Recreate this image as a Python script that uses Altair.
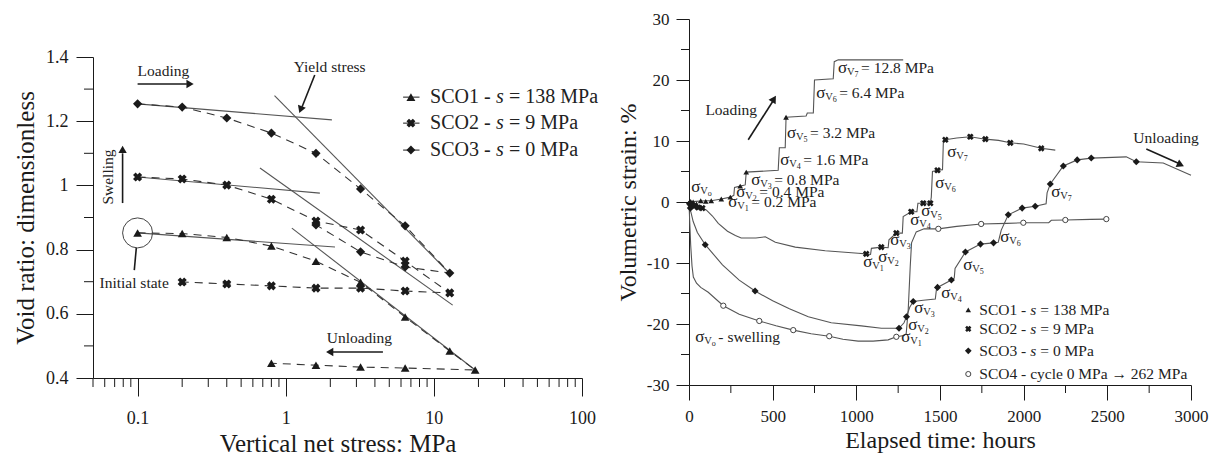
import altair as alt
import pandas as pd

FONT = "Liberation Serif"
INK = "#1a1a1a"
LINE = "#555555"

# ======================= LEFT PANEL DATA =======================
stress_load = [0.1, 0.2, 0.4, 0.8, 1.6, 3.2, 6.4, 12.8]
e_sco1_load = [0.852, 0.850, 0.838, 0.811, 0.764, 0.698, 0.590, 0.484]
stress_sco1_peak = [19.0]
e_sco1_peak = [0.425]
stress_sco1_unl = [6.4, 3.2, 1.6, 0.8]
e_sco1_unl = [0.431, 0.434, 0.440, 0.446]
e_sco2_load = [1.026, 1.020, 1.001, 0.957, 0.889, 0.861, 0.764, 0.665]
stress_sco2_unl = [6.4, 3.2, 1.6, 0.8, 0.4, 0.2]
e_sco2_unl = [0.671, 0.680, 0.680, 0.687, 0.693, 0.699]
e_sco3_load = [1.254, 1.244, 1.210, 1.163, 1.100, 0.989, 0.874, 0.727]
stress_sco3_unl = [6.4, 3.2, 1.6]
e_sco3_unl = [0.746, 0.793, 0.877]

# straight reference lines (elastic / plastic branches)
fit_s1 = [0.1, 1.1, 0.1, 0.67, 0.1, 0.84]
fit_e1 = [0.852, 0.867, 1.026, 1.054, 1.254, 1.280]
fit_s2 = [2.15, 19.0, 1.7, 13.4, 2.05, 12.9]
fit_e2 = [0.808, 0.425, 0.976, 0.627, 1.204, 0.724]

left_major_x = [0.1, 1, 10, 100]
left_minor_x = [0.05, 0.06, 0.07, 0.08, 0.09, 0.2, 0.3, 0.4, 0.5, 0.6, 0.7, 0.8, 0.9,
                2, 3, 4, 5, 6, 7, 8, 9, 20, 30, 40, 50, 60, 70, 80, 90]
left_major_y = [0.4, 0.6, 0.8, 1.0, 1.2, 1.4]
left_minor_y = [0.5, 0.7, 0.9, 1.1, 1.3]

left_leg_names = ["SCO1 - ", "SCO2 - ", "SCO3 - "]
left_leg_rest = ["= 138 MPa", "= 9 MPa", "= 0 MPa"]
left_leg_y = [1.275, 1.194, 1.110]

# ======================= RIGHT PANEL DATA =======================
t_sco1 = [0, 40, 100, 133, 193, 247, 268, 272, 306, 336, 342, 533, 540, 575, 580, 700, 707,
          743, 750, 862, 868, 892, 1280]
v_sco1 = [0, 0.1, 0.2, 0.2, 0.5, 0.8, 1.1, 2.4, 2.6, 2.8, 4.9, 5.2, 8.9, 8.9, 13.9, 14.1,
          14.6, 14.6, 20.0, 20.2, 23.0, 23.3, 23.3]
t_sco1_mk = [10, 25, 45, 70, 100, 133, 193, 247, 306, 342, 580]
v_sco1_mk = [0.1, 0.0, -0.3, 0.2, 0.1, 0.2, 0.5, 0.8, 2.6, 4.9, 13.9]

t_sco2 = [0, 20, 60, 103, 140, 175, 230, 277, 312, 400, 456, 516, 635, 814, 1011, 1059, 1085,
          1090, 1149, 1190, 1195, 1239, 1275, 1280, 1328, 1362, 1368, 1400, 1442, 1448, 1455,
          1485, 1515, 1520, 1532, 1600, 1681, 1771, 1850, 1920, 2000, 2105, 2189]
v_sco2 = [0, -0.4, -0.9, -1.3, -2.3, -3.5, -4.8, -5.5, -5.9, -5.9, -5.7, -6.6, -7.4, -8.0,
          -8.4, -8.5, -8.6, -7.6, -7.4, -7.5, -6.2, -5.1, -5.1, -2.4, -1.6, -1.6, -0.2, -0.2,
          -0.2, 0.8, 5.0, 5.2, 5.3, 9.8, 10.2, 10.5, 10.7, 10.3, 10.1, 9.7, 9.5, 8.8, 8.5]
t_sco2_mk = [10, 30, 55, 80, 1059, 1149, 1239, 1328, 1400, 1442, 1485, 1532, 1681, 1771, 1920, 2105]
v_sco2_mk = [-0.3, -0.7, -0.9, -1.0, -8.5, -7.4, -5.1, -1.6, -0.2, -0.2, 5.2, 10.2, 10.7,
             10.3, 9.7, 8.8]

t_sco3 = [0, 10, 25, 50, 97, 200, 300, 395, 500, 600, 713, 850, 1030, 1150, 1255, 1285, 1300,
          1320, 1340, 1400, 1472, 1478, 1485, 1568, 1585, 1590, 1652, 1742, 1820, 1848, 1866,
          1908, 1991, 2069, 2134, 2140, 2159, 2237, 2320, 2404, 2613, 2673, 2834, 3000]
v_sco3 = [0, -1.5, -3.2, -5.0, -7.0, -10.3, -12.8, -14.6, -16.2, -17.5, -18.8, -19.8, -20.3,
          -20.7, -20.7, -19.8, -18.8, -17.2, -16.3, -16.1, -15.9, -14.5, -14.0, -12.8, -12.5,
          -10.9, -8.2, -6.9, -6.7, -6.6, -4.6, -2.1, -1.0, -0.7, -0.3, 1.5, 2.95, 5.9, 6.9,
          7.2, 7.4, 6.6, 6.4, 4.4]
t_sco3_mk = [3, 8, 97, 395, 1255, 1300, 1340, 1485, 1568, 1652, 1742, 1820, 1908, 1991, 2069,
             2159, 2237, 2320, 2404, 2673]
v_sco3_mk = [-0.3, -1.0, -7.0, -14.6, -20.7, -18.8, -16.3, -14.0, -12.8, -8.2, -6.9, -6.7,
             -2.1, -1.0, -0.7, 2.95, 5.9, 6.9, 7.2, 6.6]

t_sco4 = [0, 4, 10, 18, 26, 45, 70, 115, 205, 300, 420, 520, 623, 730, 838, 920, 1011, 1100,
          1190, 1239, 1285, 1298, 1310, 1322, 1330, 1358, 1405, 1490, 1600, 1746, 1900, 1998,
          2150, 2165, 2249, 2400, 2494]
v_sco4 = [0, -3, -7, -10.5, -12.3, -13.3, -14.0, -14.8, -17.0, -18.4, -19.5, -20.3, -21.0,
          -21.6, -22.0, -22.5, -22.8, -22.8, -22.6, -22.1, -21.9, -21.6, -17.7, -10.6, -6.7,
          -4.9, -4.4, -4.4, -4.0, -3.6, -3.5, -3.4, -3.4, -3.0, -2.95, -2.85, -2.8]
t_sco4_mk = [205, 420, 623, 838, 1239, 1490, 1746, 1998, 2249, 2494]
v_sco4_mk = [-17.0, -19.5, -21.0, -22.0, -22.1, -4.4, -3.6, -3.4, -2.95, -2.8]

# stress-step labels  sigma_V<sub> <rest>
lab_t = [14, 235, 283, 372, 545, 586, 760, 891,
         1041, 1131, 1203, 1322, 1388, 1471, 1543,
         1268, 1310, 1346, 1507, 1639, 1860, 2165, 38]
lab_v = [2.5, 0.0, 1.6, 3.6, 6.9, 11.3, 17.9, 22.0,
         -9.8, -9.0, -6.2, -3.0, -1.5, 3.1, 8.2,
         -22.1, -20.2, -17.4, -14.9, -10.3, -5.7, 1.6, -22.1]
lab_sub = ["o", "1", "2", "3", "4", "5", "6", "7",
           "1", "2", "3", "4", "5", "6", "7",
           "1", "2", "3", "4", "5", "6", "7", "o"]
lab_rest = ["", "= 0.2 MPa", "= 0.4 MPa", "= 0.8 MPa", "= 1.6 MPa", "= 3.2 MPa", "= 6.4 MPa",
            "= 12.8 MPa", "", "", "", "", "", "", "", "", "", "", "", "", "", "", "- swelling"]

right_major_x = [0, 500, 1000, 1500, 2000, 2500, 3000]
right_minor_x = [250, 750, 1250, 1750, 2250, 2750]
right_major_y = [-30, -20, -10, 0, 10, 20, 30]
right_minor_y = [-25, -15, -5, 5, 15, 25]

right_leg_names = ["SCO1 - ", "SCO2 - ", "SCO3 - ", "SCO4 - cycle 0 MPa \u2192 262 MPa"]
right_leg_italic = ["s", "s", "s", ""]
right_leg_rest = ["= 138 MPa", "= 9 MPa", "= 0 MPa", ""]
right_leg_v = [-17.7, -20.8, -24.4, -28.2]

# ======================= LEFT PANEL =======================
LW, LH, LTOP = 489, 359, 38
xs_l = alt.Scale(type="log", domain=[0.05, 100], nice=False)
ys_l = alt.Scale(domain=[0.4, 1.4], range=[LH, LTOP], nice=False, zero=False)
ax_lx = alt.Axis(values=left_major_x, format="~g", tickSize=18, labelPadding=13, labelFlush=False,
                 labelFontSize=18, title="Vertical net stress: MPa", titleFontSize=25,
                 titlePadding=4)
ax_ly = alt.Axis(values=left_major_y, format="~g", tickSize=17, labelPadding=8, labelFlush=False,
                 labelFontSize=18, title="Void ratio: dimensionless", titleFontSize=25,
                 titlePadding=7)


def LX(f="x"):
    return alt.X(f"{f}:Q", scale=xs_l, axis=ax_lx)


def LY(f="y"):
    return alt.Y(f"{f}:Q", scale=ys_l, axis=ax_ly)


rows = []


def add_path(name, xs, ys):
    for i, (a, b) in enumerate(zip(xs, ys)):
        rows.append({"series": name, "x": a, "y": b, "order": i})


add_path("SCO1", stress_load + stress_sco1_peak + stress_sco1_unl, e_sco1_load + e_sco1_peak + e_sco1_unl)
add_path("SCO2", stress_load + stress_sco2_unl, e_sco2_load + e_sco2_unl)
add_path("SCO3", stress_load + stress_sco3_unl, e_sco3_load + e_sco3_unl)
ldf = pd.DataFrame(rows)

dashed = alt.Chart(ldf).mark_line(color="#333333", strokeWidth=1.1, strokeDash=[8, 6]).encode(
    x=LX(), y=LY(), detail="series:N", order="order:Q")

fits = alt.Chart(pd.DataFrame({"x": fit_s1, "y": fit_e1, "x2": fit_s2, "y2": fit_e2})).mark_rule(
    color=LINE, strokeWidth=1.1).encode(x=LX(), y=LY(), x2="x2:Q", y2="y2:Q")

tri_l = alt.Chart(ldf[ldf.series == "SCO1"]).mark_point(
    shape="triangle-up", filled=True, size=75, color=INK, opacity=1).encode(x=LX(), y=LY())
x_l = alt.Chart(ldf[ldf.series == "SCO2"]).mark_point(
    shape="cross", angle=45, filled=True, size=85, color=INK, opacity=1).encode(x=LX(), y=LY())
dia_l = alt.Chart(ldf[ldf.series == "SCO3"]).mark_point(
    shape="diamond", filled=True, size=85, color=INK, opacity=1).encode(x=LX(), y=LY())

# minor ticks
lminx = alt.Chart(pd.DataFrame({"x": left_minor_x})).mark_rule(color=INK, strokeWidth=1).encode(
    x=LX(), y=alt.value(LH), y2=alt.value(LH + 9))
lminy = alt.Chart(pd.DataFrame({"y": left_minor_y})).mark_rule(color=INK, strokeWidth=1).encode(
    y=LY(), x=alt.value(-9), x2=alt.value(0))

# annotations
ann_left = alt.Chart(pd.DataFrame({
    "x": [0.1, 0.0553, 1.89],
    "y": [1.356, 0.696, 0.525],
    "t": ["Loading", "Initial state", "Unloading"]})).mark_text(
    align="left", baseline="middle", font=FONT, fontSize=15.5, color="#222").encode(
    x=LX(), y=LY(), text="t:N")
ann_yield = alt.Chart(pd.DataFrame({"x": [1.98], "y": [1.369], "t": ["Yield stress"]})).mark_text(
    align="center", baseline="middle", font=FONT, fontSize=15.5, color="#222").encode(
    x=LX(), y=LY(), text="t:N")
ann_swell = alt.Chart(pd.DataFrame({"x": [0.0627], "y": [1.026], "t": ["Swelling"]})).mark_text(
    align="center", baseline="middle", angle=270, font=FONT, fontSize=15.5, color="#222").encode(
    x=LX(), y=LY(), text="t:N")

arrow_lines = alt.Chart(pd.DataFrame({
    "x": [0.1, 4.53, 1.57, 0.0792, 0.098],
    "y": [1.316, 0.481, 1.344, 0.945, 0.805],
    "x2": [0.215, 2.05, 1.29, 0.0792, 0.095],
    "y2": [1.316, 0.481, 1.245, 1.10, 0.736]})).mark_rule(color=INK, strokeWidth=1.6).encode(
    x=LX(), y=LY(), x2="x2:Q", y2="y2:Q")
heads = alt.Chart(pd.DataFrame({
    "x": [0.226, 1.98, 1.26, 0.0792],
    "y": [1.316, 0.481, 1.236, 1.112],
    "a": [90, 270, 201, 0]})).mark_point(
    shape="triangle-up", filled=True, size=70, color=INK, opacity=1).encode(
    x=LX(), y=LY(), angle=alt.Angle("a:Q", scale=None))
init_circle = alt.Chart(pd.DataFrame({"x": [0.1], "y": [0.852]})).mark_point(
    shape="circle", filled=False, size=900, color="#444", strokeWidth=1, opacity=1).encode(
    x=LX(), y=LY())

# legend (left)
lleg = pd.DataFrame({"x": [7.0] * 3, "xa": [6.2] * 3, "xb": [8.0] * 3, "tx": [9.42] * 3,
                     "y": left_leg_y, "name": left_leg_names, "rest": left_leg_rest,
                     "shape": ["triangle-up", "cross", "diamond"], "ang": [0, 45, 0]})
lleg_line = alt.Chart(lleg).mark_rule(color=INK, strokeWidth=1).encode(
    x=alt.X("xa:Q", scale=xs_l, axis=ax_lx), x2="xb:Q", y=LY())
lleg_pt = alt.Chart(lleg).mark_point(filled=True, size=80, color=INK, opacity=1).encode(
    x=LX(), y=LY(), shape=alt.Shape("shape:N", scale=None), angle=alt.Angle("ang:Q", scale=None))
lleg_t1 = alt.Chart(lleg).mark_text(align="left", baseline="middle", font=FONT, fontSize=20, color="#222").encode(
    x=alt.X("tx:Q", scale=xs_l, axis=ax_lx), y=LY(), text="name:N")
lleg_t2 = alt.Chart(lleg).mark_text(align="left", baseline="middle", font=FONT, fontSize=20, fontStyle="italic",
                                    color="#222", dx=66, text="s").encode(
    x=alt.X("tx:Q", scale=xs_l, axis=ax_lx), y=LY())
lleg_t3 = alt.Chart(lleg).mark_text(align="left", baseline="middle", font=FONT, fontSize=20, color="#222",
                                    dx=79).encode(x=alt.X("tx:Q", scale=xs_l, axis=ax_lx), y=LY(), text="rest:N")

left = alt.layer(lminx, lminy, fits, dashed, tri_l, x_l, dia_l, ann_left, ann_yield, ann_swell,
                 arrow_lines, heads, init_circle, lleg_line, lleg_pt, lleg_t1, lleg_t2, lleg_t3
                 ).properties(width=LW, height=LH)

# ======================= RIGHT PANEL =======================
RW, RH = 502, 366
xs_r = alt.Scale(domain=[0, 3000], nice=False)
ys_r = alt.Scale(domain=[-30, 30], nice=False)
ax_rx = alt.Axis(values=right_major_x, format="d", tickSize=15, labelPadding=8, labelFontSize=17,
                 labelFlush=False, title="Elapsed time: hours", titleFontSize=24, titlePadding=4)
ax_ry = alt.Axis(values=right_major_y, tickSize=13, labelPadding=7, labelFontSize=17,
                 labelFlush=False, labelExpr="'' + datum.value", title="Volumetric strain: %",
                 titleFontSize=24, titlePadding=6)


def RX(f="t"):
    return alt.X(f"{f}:Q", scale=xs_r, axis=ax_rx)


def RY(f="v"):
    return alt.Y(f"{f}:Q", scale=ys_r, axis=ax_ry)


def curve(ts, vs, name):
    return pd.DataFrame({"t": ts, "v": vs, "series": name, "order": list(range(len(ts)))})


rdf = pd.concat([curve(t_sco1, v_sco1, "SCO1"), curve(t_sco2, v_sco2, "SCO2"),
                 curve(t_sco3, v_sco3, "SCO3"), curve(t_sco4, v_sco4, "SCO4")])
rlines = alt.Chart(rdf).mark_line(color=LINE, strokeWidth=1.1).encode(
    x=RX(), y=RY(), detail="series:N", order="order:Q")

m1 = alt.Chart(pd.DataFrame({"t": t_sco1_mk, "v": v_sco1_mk})).mark_point(
    shape="triangle-up", filled=True, size=32, color=INK, opacity=1).encode(x=RX(), y=RY())
m2 = alt.Chart(pd.DataFrame({"t": t_sco2_mk, "v": v_sco2_mk})).mark_point(
    shape="cross", angle=45, filled=True, size=45, color=INK, opacity=1).encode(x=RX(), y=RY())
m3 = alt.Chart(pd.DataFrame({"t": t_sco3_mk, "v": v_sco3_mk})).mark_point(
    shape="diamond", filled=True, size=50, color=INK, opacity=1).encode(x=RX(), y=RY())
m4 = alt.Chart(pd.DataFrame({"t": t_sco4_mk, "v": v_sco4_mk})).mark_point(
    shape="circle", filled=True, fill="white", stroke="#444", strokeWidth=1, size=28, opacity=1
).encode(x=RX(), y=RY())

rminx = alt.Chart(pd.DataFrame({"t": right_minor_x})).mark_rule(color=INK, strokeWidth=1).encode(
    x=RX(), y=alt.value(RH), y2=alt.value(RH + 8))
rminy = alt.Chart(pd.DataFrame({"v": right_minor_y})).mark_rule(color=INK, strokeWidth=1).encode(
    y=RY(), x=alt.value(-8), x2=alt.value(0))

labs = pd.DataFrame({"t": lab_t, "v": lab_v, "sub": lab_sub, "rest": lab_rest})
lab_sigma = alt.Chart(labs).mark_text(align="left", baseline="middle", font=FONT, fontSize=17,
                                      color="#222", text="\u03c3").encode(x=RX(), y=RY())
lab_V = alt.Chart(labs).mark_text(align="left", baseline="middle", font=FONT, fontSize=10.5,
                                  color="#222", text="V", dx=9, dy=4).encode(x=RX(), y=RY())
lab_n = alt.Chart(labs).mark_text(align="left", baseline="middle", font=FONT, fontSize=8,
                                  color="#222", dx=16.5, dy=7).encode(x=RX(), y=RY(), text="sub:N")
lab_r = alt.Chart(labs).mark_text(align="left", baseline="middle", font=FONT, fontSize=15.5,
                                  color="#222", dx=23).encode(x=RX(), y=RY(), text="rest:N")

rann = alt.Chart(pd.DataFrame({"t": [98, 2655], "v": [15.1, 10.5], "s": ["Loading", "Unloading"]})
                 ).mark_text(align="left", baseline="middle", font=FONT, fontSize=15.5,
                             color="#222").encode(x=RX(), y=RY(), text="s:N")
rarrow = alt.Chart(pd.DataFrame({"t": [354, 2733], "v": [10.2, 8.7], "t2": [503, 2928],
                                 "v2": [16.6, 6.3]})).mark_rule(color=INK, strokeWidth=1.6).encode(
    x=RX(), y=RY(), x2="t2:Q", y2="v2:Q")
rheads = alt.Chart(pd.DataFrame({"t": [508, 2938], "v": [16.9, 6.1], "a": [32, 115]})).mark_point(
    shape="triangle-up", filled=True, size=70, color=INK, opacity=1).encode(
    x=RX(), y=RY(), angle=alt.Angle("a:Q", scale=None))

rleg = pd.DataFrame({"t": [1669] * 4, "tx": [1735] * 4, "v": right_leg_v, "name": right_leg_names,
                     "it": right_leg_italic, "rest": right_leg_rest})
rl_tri = alt.Chart(rleg.iloc[[0]]).mark_point(shape="triangle-up", filled=True, size=30, color=INK,
                                                opacity=1).encode(x=RX(), y=RY())
rl_x = alt.Chart(rleg.iloc[[1]]).mark_point(shape="cross", angle=45, filled=True, size=40, color=INK,
                                              opacity=1).encode(x=RX(), y=RY())
rl_d = alt.Chart(rleg.iloc[[2]]).mark_point(shape="diamond", filled=True, size=45, color=INK,
                                              opacity=1).encode(x=RX(), y=RY())
rl_c = alt.Chart(rleg.iloc[[3]]).mark_point(shape="circle", filled=True, fill="white", stroke="#444",
                                              strokeWidth=1, size=26, opacity=1).encode(x=RX(), y=RY())
rl_t1 = alt.Chart(rleg).mark_text(align="left", baseline="middle", font=FONT, fontSize=15.5,
                                  color="#222").encode(x=alt.X("tx:Q", scale=xs_r, axis=ax_rx), y=RY(), text="name:N")
rl_t2 = alt.Chart(rleg).mark_text(align="left", baseline="middle", font=FONT, fontSize=15.5,
                                  fontStyle="italic", color="#222", dx=51).encode(
    x=alt.X("tx:Q", scale=xs_r, axis=ax_rx), y=RY(), text="it:N")
rl_t3 = alt.Chart(rleg).mark_text(align="left", baseline="middle", font=FONT, fontSize=15.5,
                                  color="#222", dx=61).encode(
    x=alt.X("tx:Q", scale=xs_r, axis=ax_rx), y=RY(), text="rest:N")

right = alt.layer(rminx, rminy, rlines, m4, m1, m2, m3, lab_sigma, lab_V, lab_n, lab_r, rann, rarrow,
                  rheads, rl_tri, rl_x, rl_d, rl_c, rl_t1, rl_t2, rl_t3).properties(width=RW, height=RH)

chart = alt.hconcat(left, right, spacing=17).properties(
    padding={"left": 5, "top": 2, "right": 2, "bottom": 2}, background="white"
).configure_view(strokeWidth=0).configure_axis(
    grid=False, domainColor=INK, tickColor=INK, labelColor=INK, titleColor=INK,
    labelFont=FONT, titleFont=FONT, titleFontWeight="normal", domainWidth=1, tickWidth=1)

chart.save("out.html", embed_options={"renderer": "svg", "actions": False})
